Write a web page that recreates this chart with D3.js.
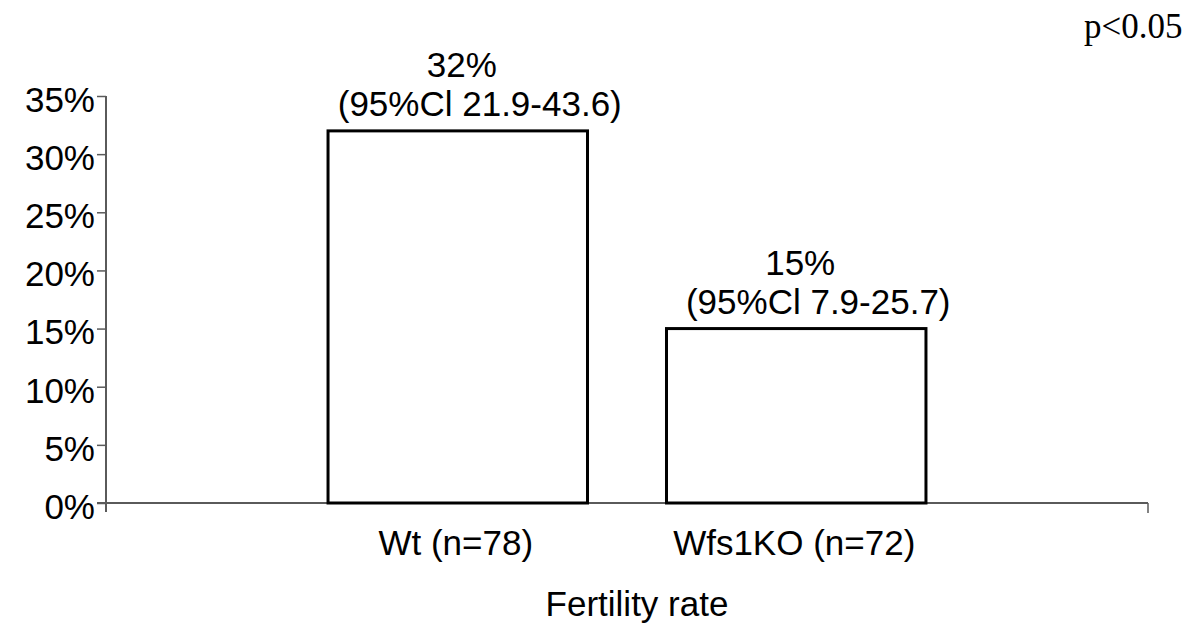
<!DOCTYPE html>
<html>
<head>
<meta charset="utf-8">
<script src="https://cdn.jsdelivr.net/npm/d3@7"></script>
<style>
  body { margin: 0; background: #fff; }
  svg { display: block; }
  text { font-family: "Liberation Sans", Arial, sans-serif; fill: #000; }
</style>
</head>
<body>
<svg id="chart" width="1200" height="637"></svg>
<script>
const categories = ["Wt (n=78)", "Wfs1KO (n=72)"];
const rates = [0.32, 0.15];
const rateLabels = ["32%", "15%"];
const ciLabels = ["(95%Cl 21.9-43.6)", "(95%Cl 7.9-25.7)"];
const yTicks = [0, 0.05, 0.10, 0.15, 0.20, 0.25, 0.30, 0.35];

const chart = {

    svg : d3.select("#chart"),

    left : 106,
    right : 1148,
    top : 96,
    bottom : 503,

    axisColor : "#5a5a5a",

    x : null,
    y : null,

    make_scales : function() {

        this.x = d3.scaleBand()
          .domain(categories)
          .range([this.left, this.right])
          .paddingInner(0.2334)
          .paddingOuter(0.656);

        this.y = d3.scaleLinear()
          .domain([0, 0.35])
          .range([this.bottom, this.top]);

    },

    draw_axes : function() {

        const svg = this.svg;

        // y axis
        const yAxis = svg.append("g")
          .attr("transform", `translate(${this.left},0)`)
          .call(d3.axisLeft(this.y).tickValues(yTicks).tickFormat(d3.format(".0%")).tickSize(9).tickPadding(2));

        yAxis.select(".domain").remove();
        yAxis.selectAll(".tick line").attr("stroke", this.axisColor).attr("stroke-width", 1.5);
        yAxis.selectAll(".tick text")
          .style("font-size", "35px")
          .attr("dy", "0.44em");

        svg.append("line")
          .attr("x1", this.left).attr("x2", this.left)
          .attr("y1", this.top).attr("y2", this.bottom + 9)
          .attr("stroke", this.axisColor).attr("stroke-width", 2);

        // x axis line with end ticks
        svg.append("line")
          .attr("x1", this.left - 9).attr("x2", this.right)
          .attr("y1", this.bottom).attr("y2", this.bottom)
          .attr("stroke", this.axisColor).attr("stroke-width", 2);

        svg.append("line")
          .attr("x1", this.right).attr("x2", this.right)
          .attr("y1", this.bottom).attr("y2", this.bottom + 10)
          .attr("stroke", this.axisColor).attr("stroke-width", 1.5);

    },

    draw_bars : function() {

        const x = this.x, y = this.y;

        this.svg.append("g")
          .selectAll("rect")
          .data(categories)
          .join("rect")
          .attr("x", d => x(d))
          .attr("width", x.bandwidth())
          .attr("y", (d, i) => y(rates[i]))
          .attr("height", (d, i) => y(0) - y(rates[i]))
          .attr("fill", "#fff")
          .attr("stroke", "#000")
          .attr("stroke-width", 3);

    },

    draw_labels : function() {

        const svg = this.svg, x = this.x, y = this.y;

        categories.forEach((c, i) => {

            const cx = x(c) + x.bandwidth() / 2;
            const top = y(rates[i]);

            svg.append("text")
              .attr("x", cx + 4)
              .attr("y", top - 54)
              .attr("text-anchor", "middle")
              .style("font-size", "35px")
              .text(rateLabels[i]);

            svg.append("text")
              .attr("x", cx + 22)
              .attr("y", top - 15)
              .attr("text-anchor", "middle")
              .style("font-size", "35px")
              .text(ciLabels[i]);

            svg.append("text")
              .attr("x", cx - 2)
              .attr("y", 555)
              .attr("text-anchor", "middle")
              .style("font-size", "35px")
              .text(c);

        });

        svg.append("text")
          .attr("x", (this.left + this.right) / 2 + 10)
          .attr("y", 616)
          .attr("text-anchor", "middle")
          .style("font-size", "35px")
          .text("Fertility rate");

        svg.append("text")
          .attr("x", 1084)
          .attr("y", 38)
          .style("font-family", "'Liberation Serif', 'Times New Roman', serif")
          .style("font-size", "35px")
          .text("p<0.05");

    }

};

chart.make_scales();
chart.draw_axes();
chart.draw_bars();
chart.draw_labels();
</script>
</body>
</html>
